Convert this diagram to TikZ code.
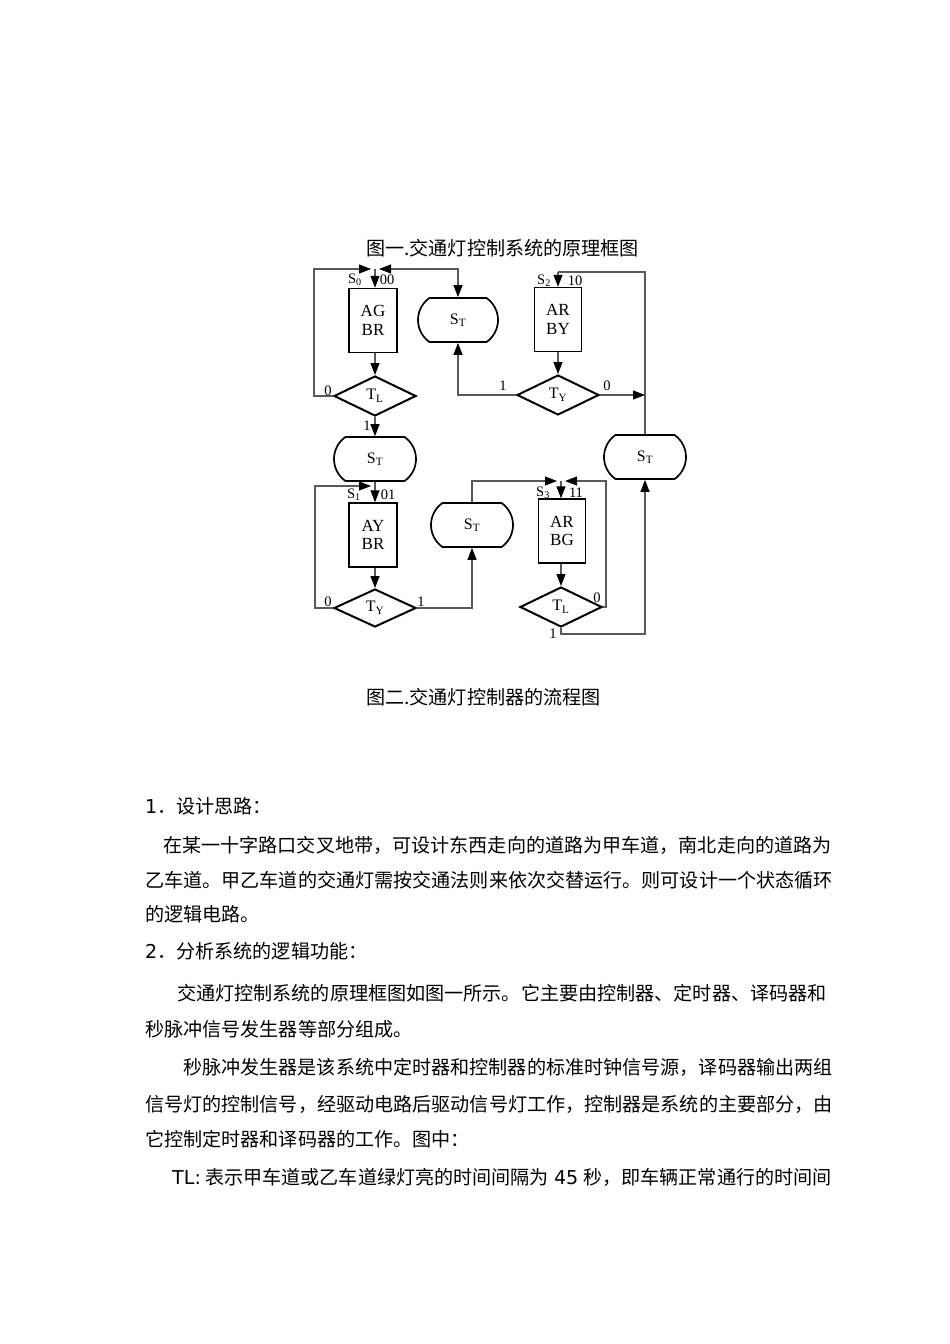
\documentclass[tikz,border=0pt]{standalone}
\usepackage{fontspec}
\setmainfont{DejaVu Sans}
\newfontfamily\zhfont{Noto Sans CJK SC}
\newfontfamily\dvfont{DejaVu Sans}
\newfontfamily\fcfont{Liberation Serif}
\usetikzlibrary{positioning,shapes.geometric,shapes.misc,arrows.meta}
\newcommand\lat[1]{{\dvfont #1}}
\tikzset{x=1pt, y=-1pt,
  statebox/.style={draw, line width=1.5pt, minimum width=48pt, minimum height=64pt, inner sep=0pt, align=center, font=\fcfont\fontsize{17}{18.5}\selectfont},
  decide/.style={diamond, draw, line width=2pt, minimum width=82pt, minimum height=40pt, inner sep=0pt, font=\fcfont\fontsize{16}{17}\selectfont},
  timer/.style={rounded rectangle, rounded rectangle arc length=110, draw, line width=1.7pt, minimum width=82pt, minimum height=44pt, inner sep=0pt, font=\fcfont\fontsize{16}{17}\selectfont},
  flow/.style={draw=black!65, line width=1.1pt},
  bitlabel/.style={inner sep=0pt, font=\fcfont\fontsize{14.5}{14.5}\selectfont},
  body/.style={anchor=base west, inner sep=0pt, font=\zhfont\fontsize{19.1}{23}\selectfont}
}

\begin{document}
\begin{tikzpicture}[>={Triangle[length=12pt,width=9pt,color=black]}]
\fill[white] (0,0) rectangle (950,1344);
\useasboundingbox (0,0) rectangle (950,1344);

% states and tests
\node[statebox] (boxA) at (373,320.5) {AG\\BR};
\node[decide] (dA) at (375,396) {T\textsubscript{L}};
\node[timer] (stB) at (375,459) {S\textsubscript{T}};
\node[statebox] (boxB) at (373,535) {AY\\BR};
\node[decide, minimum height=38pt] (dB) at (375,608) {T\textsubscript{Y}};
\node[timer, minimum width=80pt] (stA) at (458,320) {S\textsubscript{T}};
\node[timer] (stC) at (472,525) {S\textsubscript{T}};
\node[statebox, minimum width=47pt] (boxD) at (558,319.5) {AR\\BY};
\node[decide] (dD) at (558,395) {T\textsubscript{Y}};
\node[statebox, minimum width=47pt] (boxC) at (562,531) {AR\\BG};
\node[decide] (dC) at (561,607) {T\textsubscript{L}};
\node[timer] (stD) at (645,457) {S\textsubscript{T}};

% junctions
\coordinate (jA) at (375,269);
\coordinate (loopA) at (314,269);
\coordinate (jB) at (375,486);
\coordinate (loopB) at (315,486);
\coordinate (jC) at (561,481);
\coordinate (loopC) at (606,481);
\coordinate (jD) at (558,272);

% state codes
\node[bitlabel] (sA) at (355,280) {S\textsubscript{0}};
\node[bitlabel] (cA) at (387,280) {00};
\node[bitlabel] (sB) at (354,495) {S\textsubscript{1}};
\node[bitlabel] (cB) at (388,495) {01};
\node[bitlabel] (sC) at (543,493) {S\textsubscript{3}};
\node[bitlabel] (cC) at (576,493) {11};
\node[bitlabel] (sD) at (544,281) {S\textsubscript{2}};
\node[bitlabel] (cD) at (575,281) {10};

% branch values
\node[bitlabel] (aZero) at (328,391) {0};
\node[bitlabel] (aOne) at (367,426) {1};
\node[bitlabel] (bZero) at (328,602) {0};
\node[bitlabel] (bOne) at (421,602) {1};
\node[bitlabel] (cZero) at (597,598) {0};
\node[bitlabel] (cOne) at (553,634) {1};
\node[bitlabel] (dOne) at (503,386) {1};
\node[bitlabel] (dZero) at (607,386) {0};

% connectors
\draw[flow,->] (dA.west) -| (loopA) -- ([xshift=-4pt]jA);
\draw[flow,<->] ([xshift=4pt]jA) -| (stA.north);
\draw[flow,->] (jA) -- (boxA.north -| jA);
\draw[flow,->] (boxA.south -| dA) -- (dA);
\draw[flow,->] (dA.south) -- (stB.north);
\draw[flow,->] (stB.south) -- (boxB.north -| stB);
\draw[flow,->] (dB.west) -| (loopB) -- ([xshift=-4pt]jB);
\draw[flow,->] (boxB.south -| dB) -- (dB);
\draw[flow,->] (dB.east) -| (stC.south);
\draw[flow,->] (stC.north) |- ([xshift=-4pt]jC);
\draw[flow,->] (dC.east) -| (loopC) -- ([xshift=4pt]jC);
\draw[flow,->] (jC) -- (boxC.north -| jC);
\draw[flow,->] (boxC.south -| dC) -- (dC);
\draw[flow,->] (dC.south) -- ++(0,6) -| (stD.south);
\draw[flow] (stD.north) |- (jD);
\draw[flow,->] (jD) -- (boxD.north);
\draw[flow,->] (boxD) -- (dD);
\draw[flow,->] (dD.east) -- (dD.east -| stD.north);
\draw[flow,->] (dD.west) -| (stA.south);

% captions and text
\node[body] (capA) at (366,255.3) {图一.交通灯控制系统的原理框图};
\node[body] (capB) at (366,704.3) {图二.交通灯控制器的流程图};
\node[body] (lineA) at (145,813.3) {\lat{1}．设计思路：};
\node[body] (lineB) at (163,852.3) {在某一十字路口交叉地带，可设计东西走向的道路为甲车道，南北走向的道路为};
\node[body] (lineC) at (145,887.3) {乙车道。甲乙车道的交通灯需按交通法则来依次交替运行。则可设计一个状态循环};
\node[body] (lineD) at (145,921.3) {的逻辑电路。};
\node[body] (lineE) at (145,958.3) {\lat{2}．分析系统的逻辑功能：};
\node[body] (lineF) at (177,1000.3) {交通灯控制系统的原理框图如图一所示。它主要由控制器、定时器、译码器和};
\node[body] (lineG) at (145,1036.3) {秒脉冲信号发生器等部分组成。};
\node[body] (lineH) at (183,1074.3) {秒脉冲发生器是该系统中定时器和控制器的标准时钟信号源，译码器输出两组};
\node[body] (lineI) at (145,1111.3) {信号灯的控制信号，经驱动电路后驱动信号灯工作，控制器是系统的主要部分，由};
\node[body] (lineJ) at (145,1146.3) {它控制定时器和译码器的工作。图中：};
\node[body] (lineK) at (172,1184.3) {\lat{TL:} 表示甲车道或乙车道绿灯亮的时间间隔为\hspace{5pt}\lat{45}\hspace{5pt}秒，即车辆正常通行的时间间};
\end{tikzpicture}
\end{document}
